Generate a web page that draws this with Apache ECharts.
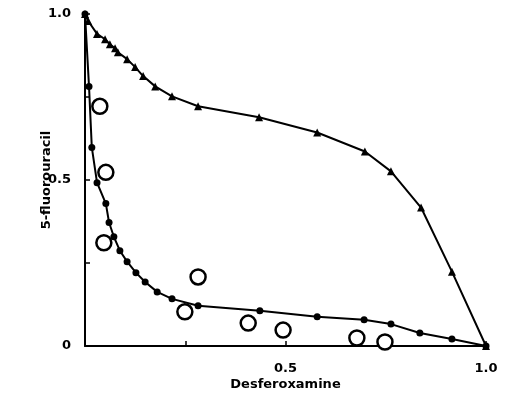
<!DOCTYPE html>
<html>
<head>
<meta charset="utf-8">
<script src="https://cdn.jsdelivr.net/npm/echarts@6/dist/echarts.min.js"></script>
<style>
html,body{margin:0;padding:0;background:#fff;}
#chart{width:507px;height:397px;}
</style>
</head>
<body>
<div id="chart"></div>
<script>
// Upper curve (triangles)
var upperX = [0, 0.008, 0.030, 0.050, 0.062, 0.075, 0.082, 0.105, 0.125, 0.145, 0.175, 0.217, 0.282, 0.434, 0.579, 0.698, 0.763, 0.838, 0.915, 1.0];
var upperY = [1.0, 0.979, 0.940, 0.924, 0.909, 0.897, 0.885, 0.864, 0.840, 0.813, 0.782, 0.752, 0.722, 0.689, 0.643, 0.586, 0.526, 0.417, 0.224, 0];
// Lower curve (filled circles)
var lowerX = [0, 0.010, 0.017, 0.030, 0.052, 0.060, 0.072, 0.087, 0.105, 0.127, 0.150, 0.180, 0.217, 0.282, 0.436, 0.579, 0.696, 0.763, 0.835, 0.915, 1.0];
var lowerY = [1.0, 0.782, 0.598, 0.492, 0.429, 0.372, 0.329, 0.287, 0.254, 0.221, 0.193, 0.163, 0.142, 0.121, 0.106, 0.088, 0.079, 0.066, 0.039, 0.021, 0];
// Observed combinations (open circles)
var obsX = [0.037, 0.052, 0.047, 0.282, 0.249, 0.407, 0.494, 0.678, 0.748];
var obsY = [0.722, 0.523, 0.311, 0.208, 0.103, 0.069, 0.048, 0.024, 0.012];
// Axis ticks / labels
var yTickLabels = {"0": "0", "0.5": "0.5", "1": "1.0"};
var xTickLabels = {"0.5": "0.5", "1": "1.0"};
var xTitle = "Desferoxamine";
var yTitle = "5-fluorouracil";

function zip(a, b) { return a.map(function (v, i) { return [v, b[i]]; }); }
function makeFmt(map) {
  return function (v) { var k = String(+v.toFixed(2)); return map[k] !== undefined ? map[k] : ''; };
}

var FONT = 'DejaVu Sans, Verdana, sans-serif';
var labelStyle = { color: '#000', fontWeight: 'bold', fontSize: 13, fontFamily: FONT };

var chart = echarts.init(document.getElementById('chart'), null, { renderer: 'canvas' });
chart.setOption({
  animation: false,
  backgroundColor: '#fff',
  grid: { left: 85, right: 21, top: 14, bottom: 51 },
  xAxis: {
    type: 'value', min: 0, max: 1, interval: 0.25,
    name: xTitle, nameLocation: 'middle', nameGap: 32, nameMoveOverlap: false,
    nameTextStyle: { color: '#000', fontWeight: 'bold', fontSize: 13, fontFamily: FONT },
    axisLine: { show: true, lineStyle: { color: '#000', width: 2 } },
    axisTick: { show: true, inside: true, length: 5, lineStyle: { color: '#000', width: 1.5 } },
    axisLabel: Object.assign({ formatter: makeFmt(xTickLabels), margin: 16 }, labelStyle),
    splitLine: { show: false }
  },
  yAxis: {
    type: 'value', min: 0, max: 1, interval: 0.25,
    name: yTitle, nameLocation: 'middle', nameGap: 32, nameRotate: 90, nameMoveOverlap: false,
    nameTextStyle: { color: '#000', fontWeight: 'bold', fontSize: 13, fontFamily: FONT },
    axisLine: { show: true, lineStyle: { color: '#000', width: 2 } },
    axisTick: { show: true, inside: true, length: 5, lineStyle: { color: '#000', width: 1.5 } },
    axisLabel: Object.assign({ formatter: makeFmt(yTickLabels), margin: 14 }, labelStyle),
    splitLine: { show: false }
  },
  series: [
    {
      type: 'line', data: zip(upperX, upperY),
      symbol: 'triangle', symbolSize: 8, showAllSymbol: true,
      lineStyle: { color: '#000', width: 2 },
      itemStyle: { color: '#000' }, z: 2
    },
    {
      type: 'line', data: zip(lowerX, lowerY),
      symbol: 'circle', symbolSize: 7, showAllSymbol: true,
      lineStyle: { color: '#000', width: 2 },
      itemStyle: { color: '#000' }, z: 2
    },
    {
      type: 'scatter', data: zip(obsX, obsY),
      symbol: 'circle', symbolSize: 15,
      itemStyle: { color: '#fff', borderColor: '#000', borderWidth: 2.5, opacity: 1 }, z: 3
    }
  ]
});
</script>
</body>
</html>
